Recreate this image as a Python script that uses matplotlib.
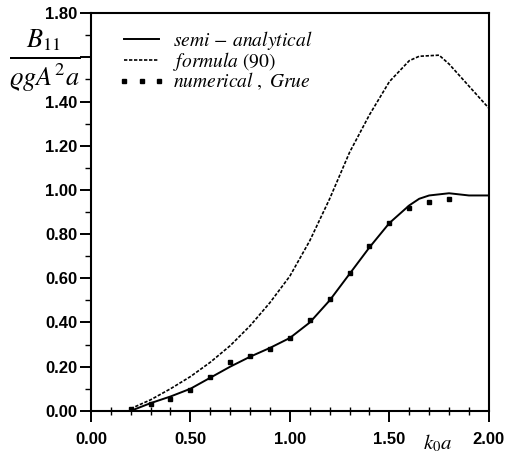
import numpy as np
import matplotlib.pyplot as plt
from matplotlib.ticker import MultipleLocator

plt.rcParams['mathtext.fontset'] = 'stix'

# semi-analytical curve
k_semi = [0.2, 0.3, 0.4, 0.5, 0.6, 0.7, 0.8, 0.9, 1.0, 1.1, 1.2, 1.3, 1.4, 1.5, 1.6, 1.65, 1.7, 1.8, 1.9, 2.0]
b_semi = [0.0, 0.035, 0.065, 0.10, 0.15, 0.20, 0.245, 0.285, 0.33, 0.40, 0.50, 0.62, 0.74, 0.85, 0.93, 0.96, 0.975, 0.985, 0.975, 0.975]

# formula (90)
k_form = [0.2, 0.3, 0.4, 0.5, 0.6, 0.7, 0.8, 0.9, 1.0, 1.1, 1.2, 1.3, 1.4, 1.5, 1.6, 1.65, 1.75, 1.8, 1.9, 2.0]
b_form = [0.01, 0.05, 0.10, 0.155, 0.22, 0.295, 0.385, 0.49, 0.61, 0.77, 0.96, 1.17, 1.34, 1.49, 1.585, 1.605, 1.61, 1.57, 1.47, 1.37]

# numerical, Grue
k_num = [0.2, 0.3, 0.4, 0.5, 0.6, 0.7, 0.8, 0.9, 1.0, 1.1, 1.2, 1.3, 1.4, 1.5, 1.6, 1.7, 1.8]
b_num = [0.01, 0.03, 0.055, 0.095, 0.155, 0.22, 0.25, 0.28, 0.33, 0.41, 0.505, 0.625, 0.745, 0.85, 0.92, 0.945, 0.96]

xticks = [0.0, 0.5, 1.0, 1.5, 2.0]
xlabels = ['0.00', '0.50', '1.00', '1.50', '2.00']
yticks = [0.0, 0.2, 0.4, 0.6, 0.8, 1.0, 1.2, 1.4, 1.6, 1.8]
ylabels = ['0.00', '0.20', '0.40', '0.60', '0.80', '1.00', '1.20', '1.40', '', '1.80']

fig = plt.figure(figsize=[5.05, 4.55], dpi=100)
fig.subplots_adjust(left=0.18, right=0.968, bottom=0.097, top=0.971)
ax = plt.subplot(1, 1, 1)

plt.plot(k_semi, b_semi, color='black', linewidth=1.4, label=r'$semi\,-\,analytical$')
plt.plot(k_form, b_form, color='black', linewidth=1.2, linestyle=(0, (2, 1.0)), label=r'$formula\ \mathrm{(90)}$')
plt.plot(k_num, b_num, linestyle='none', marker='s', markersize=3.2, color='black', label=r'$numerical\ ,\ Grue$')

plt.xlim(0, 2.0)
plt.ylim(0, 1.8)
ax.set_xticks(xticks)
ax.set_xticklabels(xlabels)
ax.set_yticks(yticks)
ax.set_yticklabels(ylabels)
ax.xaxis.set_minor_locator(MultipleLocator(0.1))
ax.yaxis.set_minor_locator(MultipleLocator(0.1))
ax.tick_params(axis='x', which='major', direction='out', length=8, width=1.4, pad=7)
ax.tick_params(axis='x', which='minor', direction='inout', length=6, width=1.0)
ax.tick_params(axis='y', which='major', direction='out', length=8, width=1.4, pad=2)
ax.tick_params(axis='y', which='minor', direction='out', length=4, width=1.0)
for lab in ax.get_xticklabels() + ax.get_yticklabels():
    lab.set_fontfamily('Liberation Sans')
    lab.set_fontweight('bold')
    lab.set_fontsize(12)
for s in ax.spines.values():
    s.set_linewidth(1.5)

leg = plt.legend(loc='upper left', frameon=False, numpoints=3,
                 prop={'size': 14}, handlelength=2.4, handletextpad=0.4,
                 labelspacing=-0.1, borderaxespad=0.0,
                 bbox_to_anchor=(0.05, 0.98))

fig.text(0.089, 0.866, r'$\frac{B_{11}}{\varrho g A^2 a}$', fontsize=27, ha='center', va='center')
fig.text(0.866, 0.027, r'$k_0a$', fontsize=15, ha='center', va='center')

plt.savefig('out.png')
